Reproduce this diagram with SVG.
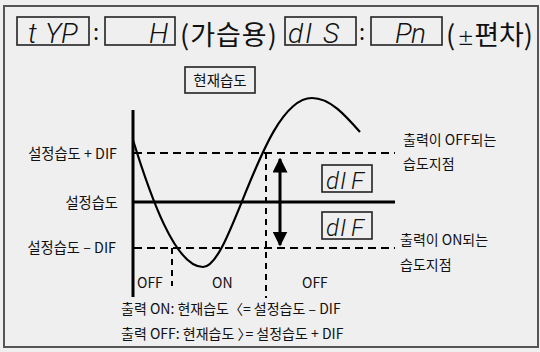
<svg xmlns="http://www.w3.org/2000/svg" width="540" height="352" viewBox="0 0 540 352">
<style>
.kr{font-family:"Noto Sans CJK KR","Noto Sans",sans-serif;fill:#111}
.seg{font-family:Roboto,"Liberation Sans",sans-serif;font-style:italic;font-weight:300;fill:#111}
.box{fill:none;stroke:#222;stroke-width:1.6}
.dash{fill:none;stroke:#000;stroke-width:2;stroke-dasharray:8 5}
.vdash{fill:none;stroke:#000;stroke-width:2;stroke-dasharray:6 5}
.solid{fill:none;stroke:#000;stroke-width:3}
</style>
<defs>
<marker id="ah" viewBox="0 0 10 10" refX="9" refY="5" markerWidth="5" markerHeight="5" orient="auto-start-reverse" markerUnits="strokeWidth">
<path d="M0,0 L10,5 L0,10 z" fill="#000"/>
</marker>
</defs>
<rect x="0" y="0" width="540" height="352" fill="#efefef"/>
<rect x="4" y="6" width="534" height="341" fill="#efefef" stroke="#555" stroke-width="2"/>
<g id="header">
<rect class="box" x="17" y="17" width="72" height="28"/>
<text class="seg" font-size="28" x="28 45 61" y="43">tYP</text>
<text class="kr" font-size="22" x="93" y="40">:</text>
<rect class="box" x="105" y="17" width="70" height="28"/>
<text class="seg" font-size="28" x="149" y="43">H</text>
<text class="kr" font-size="27" x="180" y="45" letter-spacing="1">(가습용)</text>
<rect class="box" x="285" y="17" width="71" height="28"/>
<text class="seg" font-size="28" x="288 305 323" y="43">dIS</text>
<text class="kr" font-size="22" x="359" y="40">:</text>
<rect class="box" x="371" y="17" width="71" height="28"/>
<text class="seg" font-size="28" x="395 411" y="43">Pn</text>
<text class="kr" font-size="27" x="446" y="45">(<tspan font-size="17" dx="2">±</tspan>편차)</text>
</g>
<g id="current">
<rect class="box" x="185" y="67" width="70" height="26"/>
<text class="kr" font-size="14.5" x="220" y="86" text-anchor="middle">현재습도</text>
</g>
<g id="labels-left">
<text class="kr" font-size="14.3" x="117" y="159" text-anchor="end">설정습도 + DIF</text>
<text class="kr" font-size="14.3" x="118" y="208" text-anchor="end">설정습도</text>
<text class="kr" font-size="14.3" x="116" y="253" text-anchor="end">설정습도 – DIF</text>
</g>
<g id="connectors">
<line class="solid" x1="133" y1="110" x2="133" y2="297"/>
<line class="dash" x1="134" y1="153" x2="395" y2="153"/>
<line class="solid" x1="133" y1="202" x2="395" y2="202"/>
<line class="dash" x1="134" y1="248" x2="395" y2="248"/>
<line class="vdash" x1="172" y1="248" x2="172" y2="286"/>
<line class="vdash" x1="266" y1="153" x2="266" y2="298"/>
<path fill="none" stroke="#000" stroke-width="2.2" d="M133,140 C150,195 175,267 203,267 C232,267 262,98 312,98 C330,98 345,115 360,132"/>
<line x1="280" y1="159" x2="280" y2="245" stroke="#000" stroke-width="3" marker-start="url(#ah)" marker-end="url(#ah)"/>
</g>
<g id="dif-upper">
<rect class="box" x="322" y="165" width="50" height="27"/>
<text class="seg" font-size="24" x="326 340 351" y="189">dIF</text>
</g>
<g id="dif-lower">
<rect class="box" x="322" y="212" width="50" height="27"/>
<text class="seg" font-size="24" x="326 340 351" y="236">dIF</text>
</g>
<g id="labels-right">
<text class="kr" font-size="14" x="403" y="145">출력이 OFF되는</text>
<text class="kr" font-size="14" x="403" y="169">습도지점</text>
<text class="kr" font-size="14" x="400" y="245">출력이 ON되는</text>
<text class="kr" font-size="14" x="400" y="270">습도지점</text>
</g>
<g id="states">
<text class="kr" font-size="14" x="137" y="288">OFF</text>
<text class="kr" font-size="14" x="212" y="288">ON</text>
<text class="kr" font-size="14" x="302" y="288">OFF</text>
</g>
<g id="notes">
<text class="kr" font-size="14" x="121" y="314">출력 ON: 현재습도〈= 설정습도 – DIF</text>
<text class="kr" font-size="14" x="121" y="339">출력 OFF: 현재습도 <tspan letter-spacing="-6">〉</tspan>= 설정습도 + DIF</text>
</g>
</svg>
